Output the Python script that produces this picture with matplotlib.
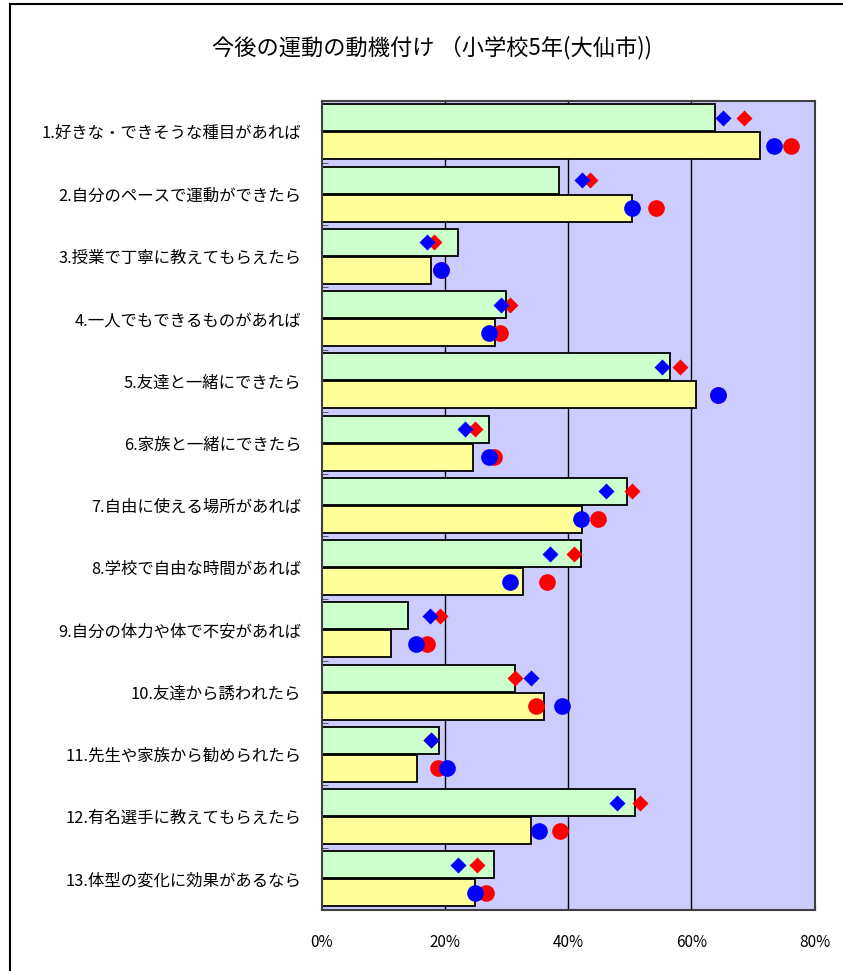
#!/usr/bin/env python3

import matplotlib.pyplot as plt
import numpy as np

plt.rcParams['font.family'] = ['Noto Sans CJK JP', 'DejaVu Sans']

# 項目
labels = [
    "1.好きな・できそうな種目があれば",
    "2.自分のペースで運動ができたら",
    "3.授業で丁寧に教えてもらえたら",
    "4.一人でもできるものがあれば",
    "5.友達と一緒にできたら",
    "6.家族と一緒にできたら",
    "7.自由に使える場所があれば",
    "8.学校で自由な時間があれば",
    "9.自分の体力や体で不安があれば",
    "10.友達から誘われたら",
    "11.先生や家族から勧められたら",
    "12.有名選手に教えてもらえたら",
    "13.体型の変化に効果があるなら",
]

# 棒グラフ (%)
green_bar = [63.8, 38.5, 22.1, 29.9, 56.5, 27.2, 49.6, 42.1, 14.0, 31.4, 19.0, 50.9, 27.9]
yellow_bar = [71.2, 50.4, 17.7, 28.1, 60.8, 24.6, 42.3, 32.7, 11.2, 36.0, 15.5, 34.0, 24.9]

# マーカー (%)
blue_diamond = [65.1, 42.3, 17.0, 29.1, 55.2, 23.3, 46.1, 37.0, 17.5, 34.0, 17.7, 47.9, 22.1]
red_diamond = [68.6, 43.5, 18.2, 30.6, 58.2, 24.9, 50.4, 41.0, 19.1, 31.4, 17.7, 51.7, 25.1]
blue_circle = [73.5, 50.4, 19.3, 27.1, 64.3, 27.1, 42.1, 30.6, 15.2, 39.0, 20.3, 35.2, 24.8]
red_circle = [76.2, 54.2, 19.3, 28.9, 64.3, 27.9, 44.8, 36.5, 17.0, 34.7, 18.9, 38.7, 26.6]

xticks = [0, 20, 40, 60, 80]

n = len(labels)
y = np.arange(n)
off = 0.225
h = 0.435

fig = plt.figure(figsize=(8.43, 9.71), dpi=100)

# 外枠
fig.add_artist(plt.Line2D([10/843, 1.0], [1 - 4/971, 1 - 4/971], color='black', lw=1.5))
fig.add_artist(plt.Line2D([10/843, 10/843], [0, 1 - 4/971], color='black', lw=1.5))

ax = fig.add_axes([322/843, 61/971, 492.5/843, 809.3/971])
ax.set_facecolor('#CCCCFF')

for gx in xticks[1:-1]:
    ax.axvline(gx, color='black', lw=1.0, zorder=1)

ax.barh(y - off, green_bar, height=h, color='#CCFFCC', edgecolor='black', lw=1.3, zorder=2)
ax.barh(y + off, yellow_bar, height=h, color='#FFFF99', edgecolor='black', lw=1.3, zorder=2)

ax.plot(red_diamond, y - off, 'D', color='#FF0000', ms=8, mec='none', ls='none', zorder=3)
ax.plot(blue_diamond, y - off, 'D', color='#0000FF', ms=8, mec='none', ls='none', zorder=4)
ax.plot(red_circle, y + off, 'o', color='#FF0000', ms=12, mec='none', ls='none', zorder=3)
ax.plot(blue_circle, y + off, 'o', color='#0000FF', ms=12, mec='none', ls='none', zorder=4)

ax.set_xlim(0, 80)
ax.set_ylim(n - 0.5, -0.5)
ax.set_xticks(xticks)
ax.set_xticklabels([f"{v}%" for v in xticks], fontsize=11)
ax.tick_params(axis='x', direction='in', length=4, pad=17)

ax.set_yticks(y)
ax.set_yticklabels(labels, fontsize=11.8)
ax.tick_params(axis='y', length=0, pad=15)
ax.set_yticks(np.arange(n + 1) - 0.5, minor=True)
ax.tick_params(axis='y', which='minor', direction='in', length=4, color='#404060')

for s in ax.spines.values():
    s.set_color('#404040')
    s.set_linewidth(1.5)

fig.text(432/843, 1 - 48/971, "今後の運動の動機付け （小学校5年(大仙市))",
         ha='center', va='center', fontsize=16)

fig.savefig('out.png', dpi=100)
